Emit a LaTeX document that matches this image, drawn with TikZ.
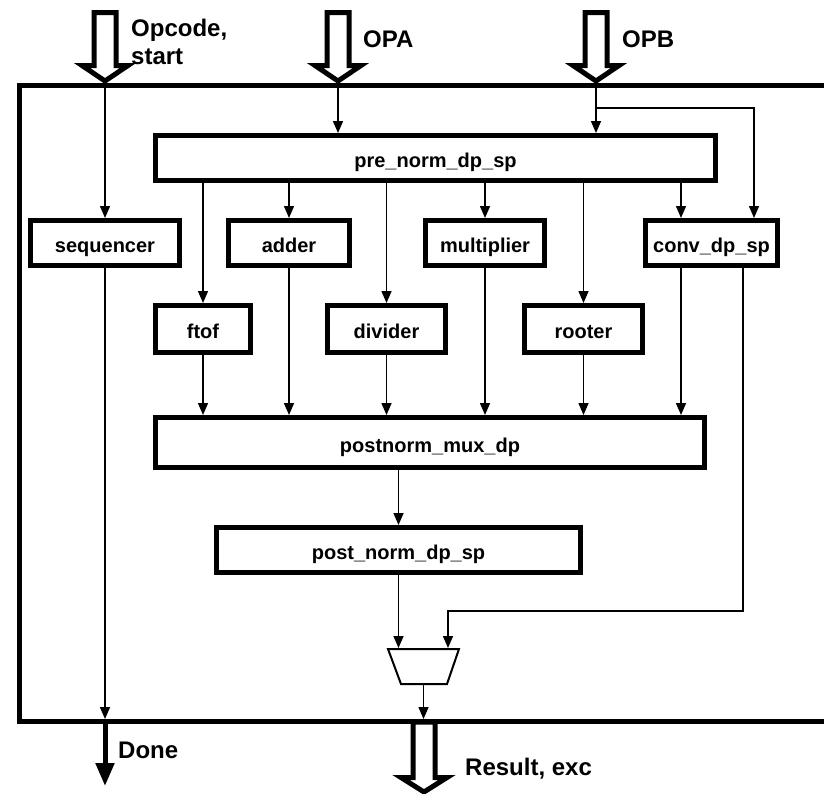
\documentclass[tikz,border=0pt]{standalone}
\usepackage{fontspec}
\setmainfont{Liberation Sans}
\usetikzlibrary{arrows.meta}

% hollow bus arrow pointing down: centre x, top y, head y, tip y
\newcommand\busarrow[4]{%
  \draw[bus] (#1-11,#2) -- (#1+11,#2) -- (#1+11,#3) -- (#1+23,#3)
    -- (#1,#4) -- (#1-23,#3) -- (#1-11,#3) -- cycle;}

\begin{document}
\begin{tikzpicture}[x=1pt,y=-1pt,
  blk/.style={draw, line width=5pt, inner sep=0pt, minimum height=45pt,
    text height=19pt, text depth=0pt,
    font=\fontsize{20}{22}\selectfont\bfseries},
  wire/.style={line width=1.5pt, -{Triangle[length=12pt,width=10pt]}},
  bus/.style={draw, line width=5pt, fill=white, line join=miter, miter limit=10},
  lbl/.style={font=\fontsize{24}{28}\selectfont\bfseries, inner sep=0pt, align=left},
  muxline/.style={line width=2pt, line join=miter}
]
\useasboundingbox (0,0) rectangle (824,793);
\clip (0,0) rectangle (824,793);

% input and output buses
\busarrow{105}{12.5}{65.5}{81}
\busarrow{338}{12.5}{65.5}{81}
\busarrow{596}{12.5}{65.5}{81}
\busarrow{424}{722}{777.5}{792}

% enclosing frame (right side runs off the page)
\draw[line width=5pt, line join=miter] (840,85) -- (19.5,85) -- (19.5,721.5) -- (840,721.5);

% bus labels
\node[lbl, anchor=north west] (lopc) at (131,18.5) {Opcode,\\start};
\node[lbl, anchor=base west] (lopa) at (363,47) {OPA};
\node[lbl, anchor=base west] (lopb) at (622,47) {OPB};
\node[lbl, anchor=base west] (ldone) at (118,758) {Done};
\node[lbl, anchor=base west] (lres) at (465,775) {Result, exc};

% functional blocks
\node[blk, minimum width=560pt] (pre)  at (435.5,158) {pre\_norm\_dp\_sp};
\node[blk, minimum width=149pt] (seq)  at (105,243)   {sequencer};
\node[blk, minimum width=121pt] (add)  at (289,243)   {adder};
\node[blk, minimum width=119pt] (mult) at (485,243)   {multiplier};
\node[blk, minimum width=132pt] (conv) at (711.5,243) {conv\_dp\_sp};
\node[blk, minimum width=95pt,  minimum height=47pt] (ftof) at (203,329)   {ftof};
\node[blk, minimum width=118pt, minimum height=47pt] (div)  at (386.5,329) {divider};
\node[blk, minimum width=118pt, minimum height=47pt] (root) at (583.5,329) {rooter};
\node[blk, minimum width=549pt, minimum height=50pt] (pm)   at (430,442.5) {postnorm\_mux\_dp};
\node[blk, minimum width=364pt] (pn2) at (398.5,550) {post\_norm\_dp\_sp};

% result multiplexer
\draw[muxline] (388,649) -- (459,649) -- (447,684) -- (401,684) -- cycle;
\coordinate (muxinA) at (398.5,648);
\coordinate (muxinB) at (448,648);
\coordinate (muxout) at (423.5,685);

% tap points
\coordinate (opc) at (105,85);
\coordinate (opa) at (338,85);
\coordinate (opb) at (596,85);
\coordinate (convinA)  at ([xshift=-30.5pt]conv.north);
\coordinate (convinB)  at ([xshift=42.5pt]conv.north);
\coordinate (convoutA) at ([xshift=-30.5pt]conv.south);
\coordinate (convoutB) at ([xshift=31.5pt]conv.south);
\coordinate (resin)    at (423.5,719);
\coordinate (donein)   at (105,719);
\coordinate (doneout)  at (105,721.5);
\coordinate (donetip)  at (105,786);

% operand distribution
\draw[wire] (opc) -- (seq.north);
\draw[wire] (opa) -- (opa |- pre.north);
\draw[wire] (opb) -- (opb |- pre.north);
\draw[wire] (opb |- 0,108) -| (convinB);

\draw[wire] (ftof.north |- pre.south) -- (ftof.north);
\draw[wire] (add.north  |- pre.south) -- (add.north);
\draw[wire] (div.north  |- pre.south) -- (div.north);
\draw[wire] (mult.north |- pre.south) -- (mult.north);
\draw[wire] (root.north |- pre.south) -- (root.north);
\draw[wire] (convinA |- pre.south) -- (convinA);

% results into the post-normalisation mux
\draw[wire] (ftof.south) -- (ftof.south |- pm.north);
\draw[wire] (add.south)  -- (add.south  |- pm.north);
\draw[wire] (div.south)  -- (div.south  |- pm.north);
\draw[wire] (mult.south) -- (mult.south |- pm.north);
\draw[wire] (root.south) -- (root.south |- pm.north);
\draw[wire] (convoutA)   -- (convoutA   |- pm.north);

\draw[wire] (pn2.north |- pm.south) -- (pn2.north);
\draw[wire] (pn2.south) -- (muxinA);
\draw[wire] (convoutB) |- (muxinB |- 0,611) -- (muxinB);
\draw[wire] (muxout) -- (resin);

% done flag
\draw[wire] (seq.south) -- (donein);
\draw[line width=5pt, -{Triangle[length=23pt,width=18pt]}] (doneout) -- (donetip);
\end{tikzpicture}
\end{document}
